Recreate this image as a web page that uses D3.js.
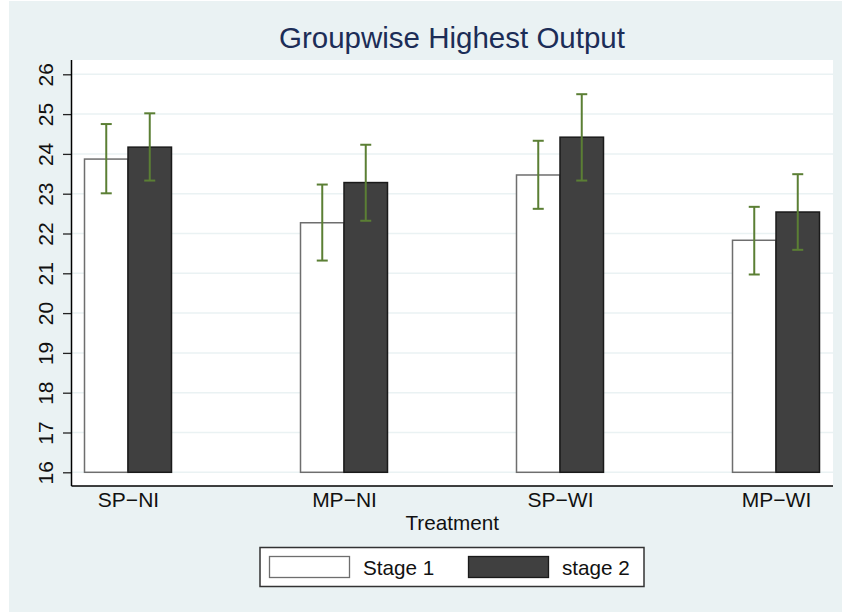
<!DOCTYPE html>
<html>
<head>
<meta charset="utf-8">
<script src="https://cdn.jsdelivr.net/npm/d3@7"></script>
<style>
  body { margin: 0; background: #fff; }
  text { font-family: "Liberation Sans", Arial, sans-serif; }
</style>
</head>
<body>
<svg id="chart" width="843" height="613"></svg>
<script>
const categories = ['SP\u2212NI', 'MP\u2212NI', 'SP\u2212WI', 'MP\u2212WI'];
const seriesNames = ['Stage 1', 'stage 2'];
const stage1 = [23.87, 22.27, 23.47, 21.83];
const stage2 = [24.17, 23.28, 24.42, 22.54];
const stage1Lo = [23.01, 21.32, 22.62, 20.97];
const stage1Hi = [24.75, 23.23, 24.33, 22.67];
const stage2Lo = [23.33, 22.32, 23.33, 21.59];
const stage2Hi = [25.02, 24.23, 25.50, 23.49];
const yTicks = [16, 17, 18, 19, 20, 21, 22, 23, 24, 25, 26];

const svg = d3.select('#chart');

// graph region
svg.append('rect')
  .attr('x', 9).attr('y', 1)
  .attr('width', 833).attr('height', 611)
  .attr('fill', '#eaf2f3');

const plot = { left: 71.5, right: 833, top: 60, bottom: 486 };

svg.append('rect')
  .attr('x', plot.left).attr('y', plot.top)
  .attr('width', plot.right - plot.left)
  .attr('height', plot.bottom - plot.top)
  .attr('fill', '#fff');

const y = d3.scaleLinear().domain([16, 26]).range([472.3, 74.3]);
const x = d3.scalePoint().domain(categories)
  .range([plot.left + 56.5, plot.right - 57]);
const sub = d3.scaleBand().domain(seriesNames).range([-43.5, 43.5]);

// gridlines
svg.append('g')
  .selectAll('line')
  .data(yTicks)
  .join('line')
  .attr('x1', plot.left).attr('x2', plot.right)
  .attr('y1', (d) => y(d)).attr('y2', (d) => y(d))
  .attr('stroke', '#eaf2f3')
  .attr('stroke-width', 1.5);

const rows = categories.map((c, i) => ({
  cat: c,
  bars: [
    { s: seriesNames[0], v: stage1[i], lo: stage1Lo[i], hi: stage1Hi[i] },
    { s: seriesNames[1], v: stage2[i], lo: stage2Lo[i], hi: stage2Hi[i] },
  ],
}));

const styles = {
  'Stage 1': { fill: '#ffffff', stroke: '#6e6e6e' },
  'stage 2': { fill: '#404040', stroke: '#1a1a1a' },
};

const group = svg.append('g')
  .selectAll('g')
  .data(rows)
  .join('g')
  .attr('transform', (d) => `translate(${x(d.cat)},0)`);

group.selectAll('rect')
  .data((d) => d.bars)
  .join('rect')
  .attr('x', (d) => sub(d.s))
  .attr('width', sub.bandwidth())
  .attr('y', (d) => y(d.v))
  .attr('height', (d) => y(16) - y(d.v))
  .attr('fill', (d) => styles[d.s].fill)
  .attr('stroke', (d) => styles[d.s].stroke)
  .attr('stroke-width', 1.5);

// error bars
const err = group.selectAll('g.err')
  .data((d) => d.bars)
  .join('g')
  .attr('class', 'err')
  .attr('stroke', '#5b7f34')
  .attr('stroke-width', 2);

err.append('line')
  .attr('x1', (d) => sub(d.s) + sub.bandwidth() / 2)
  .attr('x2', (d) => sub(d.s) + sub.bandwidth() / 2)
  .attr('y1', (d) => y(d.lo))
  .attr('y2', (d) => y(d.hi));

['lo', 'hi'].forEach((k) => {
  err.append('line')
    .attr('x1', (d) => sub(d.s) + sub.bandwidth() / 2 - 5.5)
    .attr('x2', (d) => sub(d.s) + sub.bandwidth() / 2 + 5.5)
    .attr('y1', (d) => y(d[k]))
    .attr('y2', (d) => y(d[k]));
});

// y axis
const yAxis = svg.append('g')
  .attr('transform', `translate(${plot.left},0)`)
  .call(d3.axisLeft(y).tickValues(yTicks).tickSize(8.5).tickSizeOuter(0));
yAxis.select('.domain').remove();
yAxis.selectAll('.tick line').attr('stroke', '#222').attr('stroke-width', 1.3);
yAxis.selectAll('.tick text')
  .attr('x', null).attr('dy', null)
  .attr('transform', 'translate(-18.5,0) rotate(-90)')
  .attr('text-anchor', 'middle')
  .attr('font-size', 21)
  .attr('font-family', '"Liberation Sans", Arial, sans-serif')
  .attr('fill', '#111');

svg.append('line')
  .attr('x1', plot.left).attr('x2', plot.left)
  .attr('y1', plot.top).attr('y2', plot.bottom)
  .attr('stroke', '#000').attr('stroke-width', 1.5);

// x axis
const xAxis = svg.append('g')
  .attr('transform', `translate(0,${plot.bottom})`)
  .call(d3.axisBottom(x).tickSize(0).tickPadding(0));
xAxis.select('.domain').remove();
xAxis.selectAll('.tick text')
  .attr('y', 20.5).attr('dy', null)
  .attr('font-size', 21)
  .attr('font-family', '"Liberation Sans", Arial, sans-serif')
  .attr('fill', '#111');

svg.append('line')
  .attr('x1', plot.left).attr('x2', plot.right)
  .attr('y1', plot.bottom).attr('y2', plot.bottom)
  .attr('stroke', '#000').attr('stroke-width', 1.5);

svg.append('text')
  .attr('x', (plot.left + plot.right) / 2).attr('y', 530)
  .attr('text-anchor', 'middle')
  .attr('font-size', 20.7)
  .attr('fill', '#111')
  .text('Treatment');

// title
svg.append('text')
  .attr('x', 452).attr('y', 48)
  .attr('text-anchor', 'middle')
  .attr('font-size', 29.5)
  .attr('fill', '#1c2d57')
  .text('Groupwise Highest Output');

// legend
const legend = svg.append('g');
legend.append('rect')
  .attr('x', 260).attr('y', 547.5)
  .attr('width', 384).attr('height', 39)
  .attr('fill', '#fff')
  .attr('stroke', '#333')
  .attr('stroke-width', 1.5);

const lx = [269.5, 468.5];
const item = legend.selectAll('g')
  .data(seriesNames)
  .join('g')
  .attr('transform', (d, i) => `translate(${lx[i]},0)`);
item.append('rect')
  .attr('x', 0).attr('y', 556.5)
  .attr('width', 80).attr('height', 21)
  .attr('fill', (d) => styles[d].fill)
  .attr('stroke', (d) => styles[d].stroke)
  .attr('stroke-width', 1.3);
item.append('text')
  .attr('x', 93.5).attr('y', 574.5)
  .attr('font-size', 20.7)
  .attr('fill', '#111')
  .text((d) => d);
</script>
</body>
</html>
